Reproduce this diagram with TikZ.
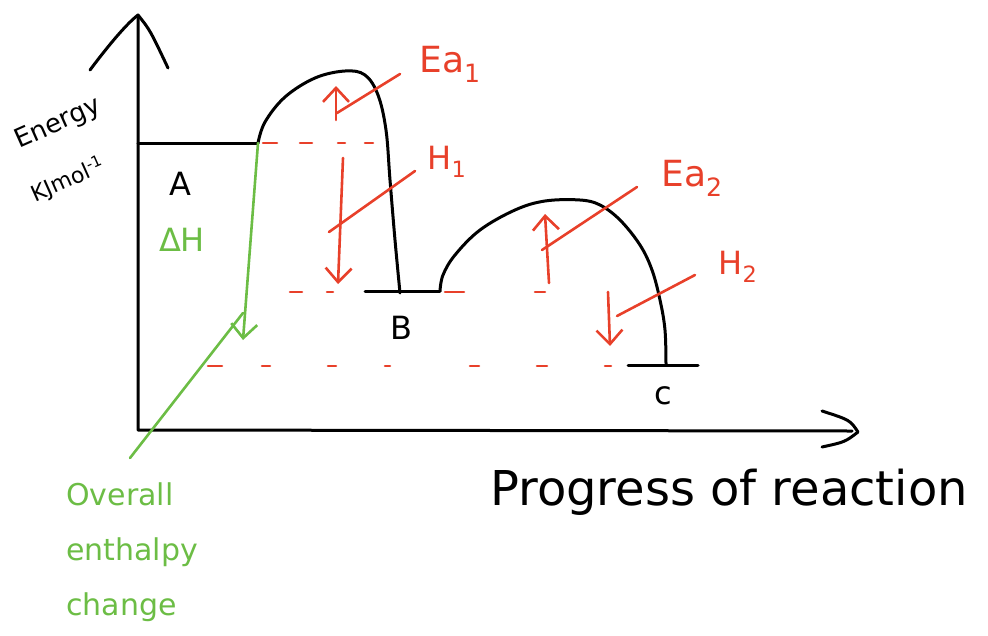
\documentclass[tikz,border=0pt]{standalone}
\usepackage{fontspec}
\setmainfont{DejaVu Sans}
\usetikzlibrary{arrows.meta}
\definecolor{rd}{HTML}{E8402A}
\definecolor{gr}{HTML}{6CBD45}
\begin{document}
\begin{tikzpicture}[x=1pt,y=-1pt, line cap=round, line join=round,
  ax/.style={line width=3pt,black},
  rdl/.style={line width=2.6pt,rd},
  grl/.style={line width=2.6pt,gr},
  tip/.style={-{Straight Barb[length=14pt,width=26pt,line width=2.6pt]}},
  lbl/.style={inner sep=0pt, font=\fontsize{32}{32}\selectfont},
  rlbl/.style={lbl, text=rd},
  glbl/.style={lbl, text=gr}]
\useasboundingbox (0,0) rectangle (988,635);
% axes
\coordinate (O) at (138,430);
\coordinate (ytop) at (138,15);
\coordinate (xend) at (852,431);
\draw[ax] (ytop) -- (O) -- (xend);
\draw[ax] (90,70) .. controls (105,50) and (125,25) .. (ytop) .. controls (150,30) .. (168,68);
\draw[ax] (822,411) .. controls (850,420) .. (858,432) .. controls (845,442) .. (822,447);
% energy profile
\coordinate (Aend) at (258,143);
\draw[ax] (138,143) -- (Aend);
\draw[ax] plot[smooth, tension=0.6] coordinates {(258,143) (265,122) (285,97) (315,78) (345,71) (365,75) (378,95) (386,130) (390,180) (395,240) (400,293)};
\draw[ax] (365,291) -- (440,291);
\draw[ax] plot[smooth, tension=0.6] coordinates {(440,291) (443,275) (455,255) (480,230) (515,210) (545,201) (580,200) (600,205) (620,220) (640,245) (652,270) (660,300) (665,330) (666,365)};
\draw[ax] (628,365) -- (698,365);
% red dashed guide lines
\foreach \a/\b in {263/277, 300/312, 338/345, 365/373}
  \draw[rdl] (\a,143) -- (\b,143);
\foreach \a/\b in {290/302, 327/333, 445/464, 535/545}
  \draw[rdl] (\a,292) -- (\b,292);
\foreach \a/\b in {208/222, 262/270, 328/336, 385/390, 470/479, 537/547, 605/611}
  \draw[rdl] (\a,366) -- (\b,366);
% red arrows
\coordinate (ea1a) at (336,120); \coordinate (ea1b) at (336,86);
\draw[rdl,tip] (ea1a) -- (ea1b);
\coordinate (h1a) at (343,158); \coordinate (h1b) at (338,284);
\draw[rdl,tip] (h1a) -- (h1b);
\coordinate (ea2a) at (549,283); \coordinate (ea2b) at (545,214);
\draw[rdl,tip] (ea2a) -- (ea2b);
\coordinate (h2a) at (608,292); \coordinate (h2b) at (610,346);
\draw[rdl,tip] (h2a) -- (h2b);
% red labels and leaders
\node[rlbl, font=\fontsize{36}{36}\selectfont] (Ea1) at (450,64) {Ea\textsubscript{1}};
\node[rlbl] (H1) at (447,162) {H\textsubscript{1}};
\node[rlbl, font=\fontsize{36}{36}\selectfont] (Ea2) at (692,178) {Ea\textsubscript{2}};
\node[rlbl] (H2) at (738,267) {H\textsubscript{2}};
\coordinate (l1a) at (337,113); \coordinate (l1b) at (400,74);
\coordinate (l2a) at (329,232); \coordinate (l2b) at (415,171);
\coordinate (l3a) at (542,250); \coordinate (l3b) at (637,187);
\coordinate (l4a) at (617,316); \coordinate (l4b) at (695,275);
\draw[rdl] (l1a) -- (l1b);
\draw[rdl] (l2a) -- (l2b);
\draw[rdl] (l3a) -- (l3b);
\draw[rdl] (l4a) -- (l4b);
% green overall enthalpy change
\coordinate (gend) at (243,340);
\draw[grl,tip] (Aend) -- (gend);
\coordinate (gl1) at (243,313); \coordinate (gl2) at (130,458);
\draw[grl] (gl1) -- (gl2);
\node[glbl] (dH) at (182,240) {ΔH};
\node[glbl, align=left, font=\fontsize{30}{55}\selectfont, anchor=north west] (ov) at (66,482) {Overall\\enthalpy\\change};
% black labels
\node[lbl, rotate=24, font=\fontsize{26}{26}\selectfont] (en) at (58,124) {Energy};
\node[lbl, rotate=24, font=\fontsize{22}{22}\selectfont] (un) at (68,180) {KJmol\textsuperscript{-1}};
\node[lbl] (A) at (180,184) {A};
\node[lbl] (B) at (401,328) {B};
\node[lbl] (C) at (663,396) {c};
\node[lbl, font=\fontsize{48}{48}\selectfont] (xl) at (729,492) {Progress of reaction};
\end{tikzpicture}
\end{document}
